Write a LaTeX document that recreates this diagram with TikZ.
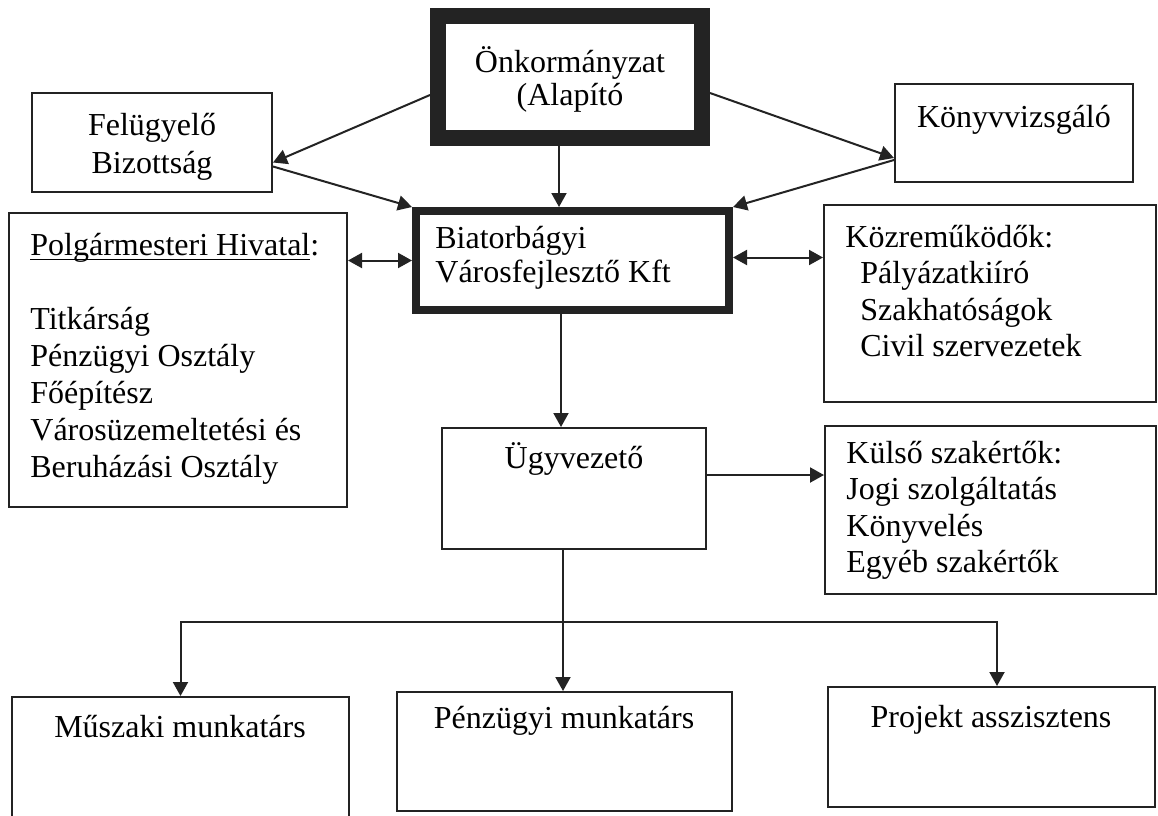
\documentclass[tikz,border=0pt]{standalone}
\usepackage{fontspec}
\setmainfont{Liberation Serif}
\usetikzlibrary{arrows.meta,calc}
\definecolor{ink}{RGB}{35,35,35}
\newcommand\myul[1]{\setbox0\hbox{#1}\rlap{\rule[-2.5pt]{\wd0}{0.7pt}}\box0}
\begin{document}
\begin{tikzpicture}[x=0.5pt,y=-0.5pt,
  box/.style={draw=ink, line width=1pt, inner sep=0pt, rectangle},
  thickbox/.style={box, line width=8pt},
  medbox/.style={box, line width=4pt},
  txt/.style={inner sep=0pt, anchor=base, text=black},
  conn/.style={draw=ink, line width=1pt, -{Triangle[length=7pt,width=7.5pt]}},
  biconn/.style={draw=ink, line width=1pt, {Triangle[length=7pt,width=7.5pt]}-{Triangle[length=7pt,width=7.5pt]}},
]
\useasboundingbox (0,0) rectangle (1158,815);
\clip (0,0) rectangle (1158,815);
\fill[white] (0,0) rectangle (1158,815);

% boxes
\node[thickbox, minimum width=132pt, minimum height=61pt] (onk) at (570,77) {};
\node[medbox, minimum width=156.5pt, minimum height=49.5pt] (bia) at (572.5,260.5) {};
\node[box, minimum width=120pt, minimum height=49.5pt] (fel) at (152,142.5) {};
\node[box, minimum width=119pt, minimum height=49pt] (kony) at (1014,133) {};
\node[box, minimum width=169pt, minimum height=147pt] (polg) at (178,360) {};
\node[box, minimum width=166pt, minimum height=98.5pt] (koz) at (990,303.5) {};
\node[box, minimum width=132pt, minimum height=60.5pt] (ugy) at (574,488.5) {};
\node[box, minimum width=165.5pt, minimum height=84pt] (kul) at (990.5,510) {};
\node[box, minimum width=168.5pt, minimum height=66.5pt] (mus) at (180.5,763.5) {};
\node[box, minimum width=167.5pt, minimum height=59.5pt] (pen) at (564.5,751.5) {};
\node[box, minimum width=163.5pt, minimum height=60pt] (proj) at (991.5,747) {};

% texts
\node[txt, font=\fontsize{16}{16.5}\selectfont] (onk-t) at (570,72)
  {\begin{tabular}[t]{@{}c@{}}Önkormányzat\\(Alapító\end{tabular}};
\node[txt, font=\fontsize{16}{19}\selectfont] (fel-t) at (152,135)
  {\begin{tabular}[t]{@{}c@{}}Felügyelő\\Bizottság\end{tabular}};
\node[txt, font=\fontsize{16}{19}\selectfont] (kony-t) at (1014,127) {Könyvvizsgáló};
\node[txt, anchor=base west, font=\fontsize{16}{17}\selectfont] (bia-t) at (435,248)
  {\begin{tabular}[t]{@{}l@{}}Biatorbágyi\\Városfejlesztő Kft\end{tabular}};
\node[txt, anchor=base west, font=\fontsize{16}{18.5}\selectfont] (polg-t) at (30,255)
  {\begin{tabular}[t]{@{}l@{}}\myul{Polgármesteri Hivatal}:\\ \\Titkárság\\Pénzügyi Osztály\\Főépítész\\Városüzemeltetési és\\Beruházási Osztály\end{tabular}};
\node[txt, anchor=base west, font=\fontsize{16}{18.3}\selectfont] (koz-t) at (845,247)
  {\begin{tabular}[t]{@{}l@{}}Közreműködők:\\\hspace*{7.5pt}Pályázatkiíró\\\hspace*{7.5pt}Szakhatóságok\\\hspace*{7.5pt}Civil szervezetek\end{tabular}};
\node[txt, anchor=base west, font=\fontsize{16}{18.3}\selectfont] (kul-t) at (846,463)
  {\begin{tabular}[t]{@{}l@{}}Külső szakértők:\\Jogi szolgáltatás\\Könyvelés\\Egyéb szakértők\end{tabular}};
\node[txt, font=\fontsize{16}{19}\selectfont] (ugy-t) at (574,468) {Ügyvezető};
\node[txt, font=\fontsize{16}{19}\selectfont] (mus-t) at (180,737) {Műszaki munkatárs};
\node[txt, font=\fontsize{16}{19}\selectfont] (pen-t) at (564,728) {Pénzügyi munkatárs};
\node[txt, font=\fontsize{16}{19}\selectfont] (proj-t) at (991,727) {Projekt asszisztens};

% connectors
\draw[conn] ([yshift=-9pt]onk.west) -- ([yshift=-10pt]fel.east);
\draw[conn] ([yshift=-12pt]fel.east) -- (bia.north west);
\draw[conn] ([xshift=-5.5pt]onk.south) -- ([xshift=-5.5pt]onk.south |- bia.north);
\draw[conn] ([yshift=-8pt]onk.east) -- ([yshift=-12.5pt]kony.west);
\draw[conn] ([yshift=-13.5pt]kony.west) -- (bia.north east);
\draw[biconn] (bia.west) -- (bia.west -| polg.east);
\draw[biconn] ([yshift=1.5pt]bia.east) -- ([yshift=1.5pt]bia.east -| koz.west);
\draw[conn] ([xshift=-5.75pt]bia.south) -- ([xshift=-5.75pt]bia.south |- ugy.north);
\draw[conn] ([yshift=6.75pt]ugy.east) -- ([yshift=6.75pt]ugy.east -| kul.west);
\draw[conn] ([xshift=-5.5pt]ugy.south) -- ([xshift=-5.5pt]ugy.south |- pen.north);
\coordinate (j) at ([xshift=-5.5pt,yshift=-36pt]ugy.south);
\draw[conn] (j) -| (mus.north);
\draw[conn] (j) -| ([xshift=2.75pt]proj.north);
\end{tikzpicture}
\end{document}
